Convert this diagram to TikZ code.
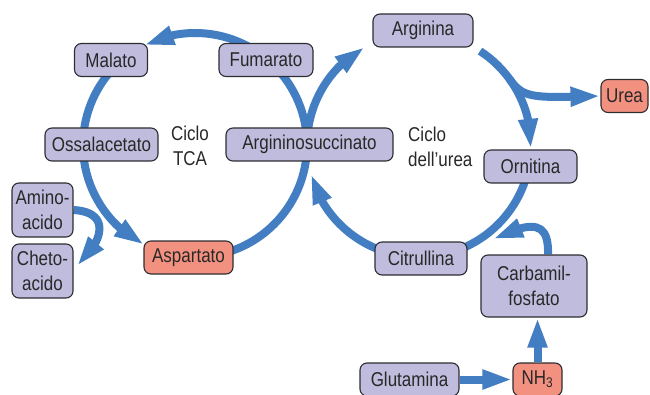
\documentclass[tikz,border=0pt]{standalone}
\usepackage{fontspec}
\setmainfont{Liberation Sans}[FakeStretch=0.85]
\usetikzlibrary{arrows.meta,bending,backgrounds}
\definecolor{flow}{RGB}{66,126,193}
\definecolor{lav}{RGB}{191,188,221}
\definecolor{salmon}{RGB}{243,145,129}
\definecolor{edge}{RGB}{45,45,50}
\definecolor{ink}{RGB}{40,40,40}
\begin{document}
\begin{tikzpicture}[x=1pt,y=1pt,
  metab/.style={draw=edge, line width=1.1pt, rounded corners=7pt, fill=lav,
    text=ink, inner sep=0pt, align=center, minimum height=33pt,
    font=\fontsize{20}{25}\selectfont},
  key/.style={metab, fill=salmon},
  lbl/.style={text=ink, inner sep=0pt, font=\fontsize{20}{25}\selectfont},
  ring/.style={draw=flow, line width=8pt},
  head/.style={-{Triangle[length=30pt,width=18pt]}}]
\useasboundingbox (0,0) rectangle (650,394);

% cycle centres
\coordinate (c1) at (195,249);
\coordinate (c2) at (419,249);

% metabolites
\node[metab, minimum width=73pt] (mal) at (111,334) {Malato};
\node[metab, minimum width=94pt] (fum) at (266,334) {Fumarato};
\node[metab, minimum width=113pt] (oss) at (101.5,249.5) {Ossalacetato};
\node[metab, minimum width=167pt] (ags) at (309.5,249.5) {Argininosuccinato};
\node[metab, minimum width=100pt] (arg) at (423,363.5) {Arginina};
\node[key, minimum width=47pt] (urea) at (624.5,298) {Urea};
\node[metab, minimum width=93pt] (orn) at (530.5,227.5) {Ornitina};
\node[metab, minimum width=61pt, minimum height=54pt] (amino) at (42.5,184) {Amino-\\acido};
\node[metab, minimum width=61pt, minimum height=54pt] (cheto) at (42.5,123) {Cheto-\\acido};
\node[key, minimum width=89pt] (asp) at (188.5,136.5) {Aspartato};
\node[metab, minimum width=92pt] (cit) at (421,135.5) {Citrullina};
\node[metab, minimum width=106pt, minimum height=62pt] (carb) at (534,108) {Carbamil-\\fosfato};
\node[metab, minimum width=99pt] (glu) at (409.5,14.5) {Glutamina};
\node[key, minimum width=49pt] (nh3) at (537.5,14.5) {NH\textsubscript{3}};

% cycle labels
\node[lbl, align=center] (tca) at (190,248) {Ciclo\\TCA};
\node[lbl, align=left, anchor=west] (ucy) at (408,247) {Ciclo\\dell’urea};

\begin{scope}[on background layer]
  % TCA cycle
  \draw[ring, head] ([shift={(0:112)}]c1) arc[start angle=0, end angle=117, radius=112];
  \draw[ring, head] ([shift={(122:112)}]c1) arc[start angle=122, end angle=243, radius=112];
  \draw[ring] ([shift={(270:112)}]c1) arc[start angle=270, end angle=360, radius=112];
  % urea cycle
  \draw[ring, head] ([shift={(180:112)}]c2) arc[start angle=180, end angle=119, radius=112];
  \draw[ring, head] ([shift={(57:112)}]c2) arc[start angle=57, end angle=-2, radius=112];
  \draw[ring] ([shift={(-10:112)}]c2) arc[start angle=-10, end angle=-90, radius=112];
  \draw[ring, head] ([shift={(265:112)}]c2) arc[start angle=265, end angle=195, radius=112];
  % urea release
  \coordinate (ub) at ([shift={(36:112)}]c2);
  \draw[ring, head] (ub) .. controls (520,300) and (528,297) .. (560,297) -- (urea.west);
  % side reactions
  \draw[ring, head] (amino.east) .. controls (110,182) and (105,154) .. (77,128);
  \draw[ring, head] (carb.north -| 548,0) .. controls (549,175) and (530,172) .. (493,155);
  \draw[ring, head] (glu.east) -- (nh3.west);
  \draw[ring, head] (nh3.north) -- (nh3.north |- carb.south);
\end{scope}
\end{tikzpicture}
\end{document}
